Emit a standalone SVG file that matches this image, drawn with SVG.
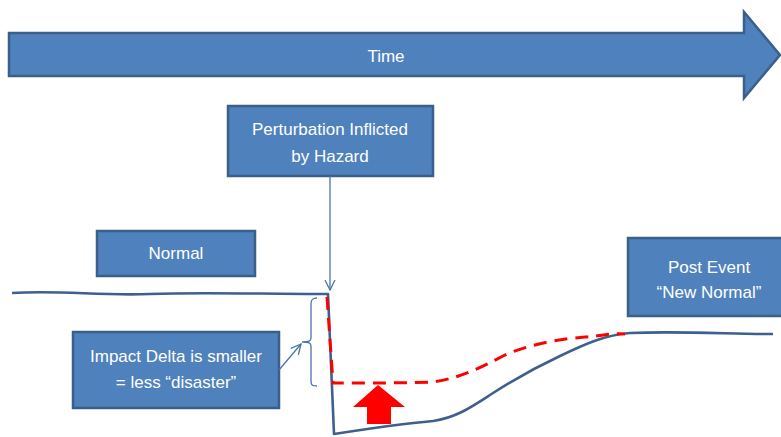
<svg xmlns="http://www.w3.org/2000/svg" width="781" height="437" viewBox="0 0 781 437">
<style>
.box{fill:#4F81BD;stroke:#3A5F8B;stroke-width:2.5}
.t{font-family:"Liberation Sans",Arial,sans-serif;font-size:17px;fill:#fff;text-anchor:middle}
.ln{fill:none;stroke:#4A74A8;stroke-width:1.3}
.curve{fill:none;stroke:#3F5F8F;stroke-width:2.6;stroke-linejoin:round}
.dash{fill:none;stroke:#FF0000;stroke-width:3;stroke-dasharray:13 8}
</style>
<defs>
<marker id="open" viewBox="0 0 12 12" refX="11" refY="6" markerWidth="12" markerHeight="12" markerUnits="userSpaceOnUse" orient="auto">
<path d="M1,1 L11,6 L1,11" fill="none" stroke="#4A74A8" stroke-width="1.3"/>
</marker>
</defs>
<g id="time">
<path class="box" d="M9,33 H744 V12 L780,55 L744,98 V76 H9 Z"/>
<text class="t" x="386" y="62">Time</text>
</g>
<g id="perturbation">
<rect class="box" x="228" y="106" width="205" height="70"/>
<text class="t" x="330" y="135">Perturbation Inflicted</text>
<text class="t" x="330" y="162">by Hazard</text>
</g>
<g id="normal">
<rect class="box" x="97" y="231" width="158" height="45"/>
<text class="t" x="176" y="259">Normal</text>
</g>
<g id="impact">
<rect class="box" x="73" y="332" width="206" height="76"/>
<text class="t" x="176" y="362">Impact Delta is smaller</text>
<text class="t" x="176" y="388">= less “disaster”</text>
</g>
<g id="postevent">
<rect class="box" x="628" y="238" width="160" height="78"/>
<text class="t" x="709" y="273">Post Event</text>
<text class="t" x="709" y="298">“New Normal”</text>
</g>
<g id="curves">
<path class="curve" d="M12,293 C60,290 100,296 150,294 C200,292 260,294 328,294 L334,434 C360,430 400,424 433,421 C455,418 470,408 490,395 C510,382 530,370 560,356 C585,344 605,335 630,333 C680,331 730,334 773,334"/>
<path class="dash" d="M327,297 L333,383 C370,383 410,383 433,382 C460,378 480,368 505,355 C530,344 560,339 585,337 C600,336 610,333 625,334"/>
<path d="M378,385 L353,407 H367 V424 H391 V407 H405 Z" fill="#FF0000"/>
</g>
<g id="connectors">
<line class="ln" x1="330" y1="176" x2="330" y2="290" marker-end="url(#open)"/>
<line class="ln" x1="279" y1="370" x2="301" y2="344" marker-end="url(#open)"/>
<path class="ln" d="M317,298 C312,298 311,300 311,304 V338 C311,341 309,342 302,342 C309,342 311,343 311,346 V381 C311,385 312,386 317,386"/>
</g>
</svg>
